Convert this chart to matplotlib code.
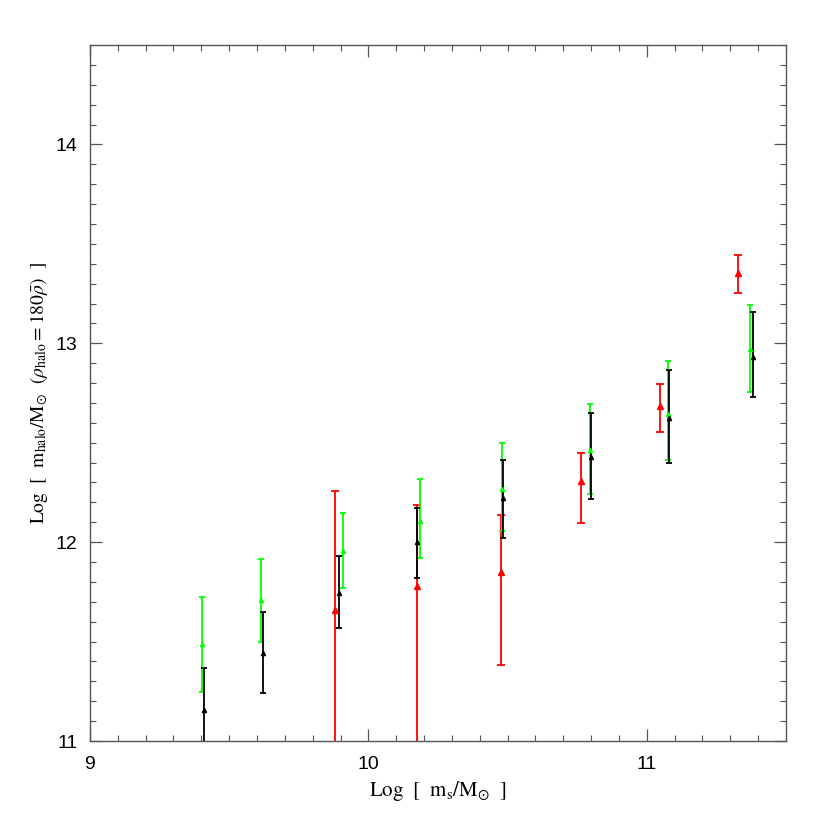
import matplotlib
matplotlib.use('Agg')
import numpy as np
from matplotlib import pyplot as plt
from matplotlib.ticker import MultipleLocator

# stellar mass bins (log m_s) and halo mass estimates for three samples
red_x = [9.881, 10.176, 10.476, 10.764, 11.048, 11.328]
red_y = [11.657, 11.779, 11.848, 12.306, 12.686, 13.355]
red_hi = [12.255, 12.188, 12.135, 12.450, 12.797, 13.443]
red_lo = [10.60, 10.70, 11.384, 12.098, 12.552, 13.254]

green_x = [9.403, 9.613, 9.908, 10.185, 10.480, 10.796, 11.077, 11.371]
green_y = [11.488, 11.707, 11.955, 12.108, 12.267, 12.463, 12.644, 12.971]
green_hi = [11.725, 11.915, 12.145, 12.317, 12.497, 12.696, 12.911, 13.192]
green_lo = [11.248, 11.498, 11.768, 11.918, 12.057, 12.242, 12.413, 12.756]

black_x = [9.410, 9.622, 9.893, 10.174, 10.482, 10.800, 11.081, 11.381]
black_y = [11.157, 11.441, 11.744, 12.000, 12.223, 12.428, 12.625, 12.932]
black_hi = [11.369, 11.650, 11.932, 12.170, 12.411, 12.647, 12.867, 13.158]
black_lo = [10.945, 11.240, 11.567, 11.821, 12.021, 12.217, 12.399, 12.730]

plt.rcParams['font.family'] = ['Liberation Sans', 'DejaVu Sans']
plt.rcParams['mathtext.fontset'] = 'stix'

fig = plt.figure(figsize=(8.3, 8.3), dpi=100)
ax = fig.add_axes([0.1084, 0.1072, 0.8386, 0.8386])


def draw_series(x, y, hi, lo, color, ms, cs):
    y = np.array(y)
    yerr = [y - np.array(lo), np.array(hi) - y]
    ax.errorbar(x, y, yerr=yerr, fmt='^', color=color, ms=ms, mec=color,
                elinewidth=1.3, capsize=cs, capthick=1.3, clip_on=True)


draw_series(red_x, red_y, red_hi, red_lo, '#ff0000', 4.5, 2.8)
draw_series(green_x, green_y, green_hi, green_lo, '#00ff00', 3, 2.4)
draw_series(black_x, black_y, black_hi, black_lo, 'black', 3, 2.4)

ax.set_xlim(9, 11.5)
ax.set_ylim(11, 14.5)
ax.xaxis.set_major_locator(MultipleLocator(1))
ax.xaxis.set_minor_locator(MultipleLocator(0.1))
ax.yaxis.set_major_locator(MultipleLocator(1))
ax.yaxis.set_minor_locator(MultipleLocator(0.1))
ax.tick_params(which='both', direction='in', top=True, right=True,
               color='#555555', labelsize=14)
ax.tick_params(which='major', length=8.5, width=0.9)
ax.tick_params(which='minor', length=4.3, width=0.8)
ax.tick_params(axis='x', pad=11)
ax.tick_params(axis='y', pad=9)
for sp in ax.spines.values():
    sp.set_color('#555555')
    sp.set_linewidth(1.0)

ax.set_xlabel(r'$\mathrm{Log\ \ [\ \ m_s/M_{\odot}\ \ ]}$', fontsize=15, labelpad=4)
ax.set_ylabel(r'$\mathrm{Log\ \ [\ \ m_{halo}/M_{\odot}\ \ (}\rho_{\mathrm{halo}}\mathrm{=180}\bar{\rho}\mathrm{)\ \ ]}$',
              fontsize=14, labelpad=4)

plt.savefig('out.png', dpi=100)
